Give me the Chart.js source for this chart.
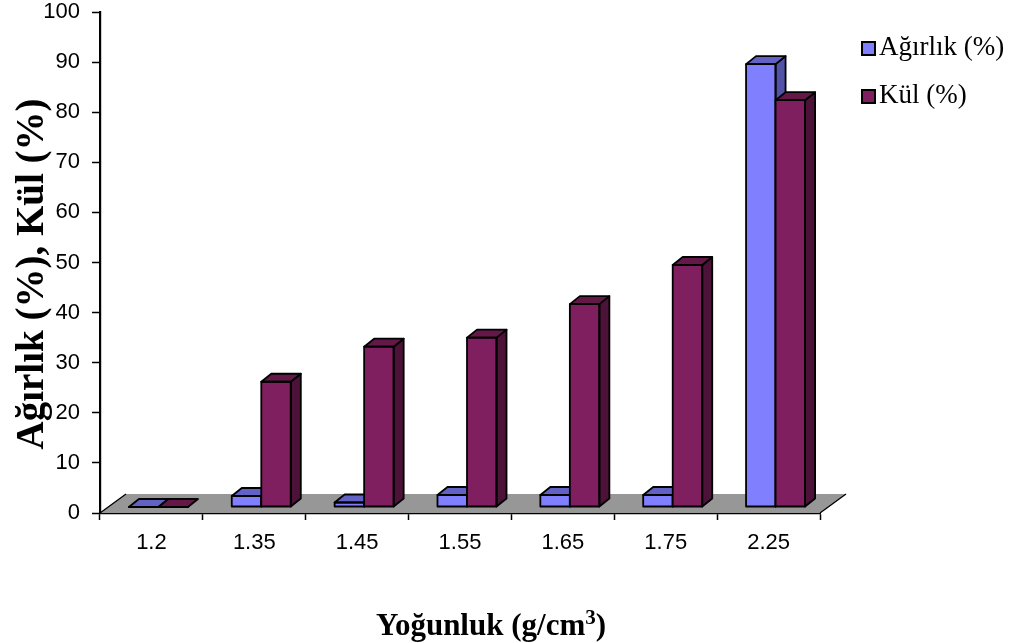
<!DOCTYPE html>
<html>
<head>
<meta charset="utf-8">
<title>Yoğunluk - Ağırlık ve Kül</title>
<script src="https://cdn.jsdelivr.net/npm/chart.js@4/dist/chart.umd.min.js"></script>
<style>
  html, body { margin: 0; padding: 0; background: #ffffff; }
  #wrap { width: 1014px; height: 643px; }
</style>
</head>
<body>
<div id="wrap"><canvas id="chart" width="1014" height="643"></canvas></div>
<script>
// Density classes (g/cm3)
const categories = ['1.2', '1.35', '1.45', '1.55', '1.65', '1.75', '2.25'];
// Weight share of each density fraction (%)
const agirlik = [0, 2.2, 0.9, 2.4, 2.4, 2.4, 88.4];
// Ash content of each density fraction (%)
const kul = [0, 25.0, 32.0, 33.8, 40.5, 48.3, 81.2];
// Series names and axis titles (the x title carries a raised exponent)
const seriesNames = ['Ağırlık (%)', 'Kül (%)'];
const xTitleParts = ['Yoğunluk (g/cm', '3', ')'];
const yTitle = 'Ağırlık (%), Kül (%)';
const yMin = 0, yMax = 100, yStep = 10;

// Pseudo-3D geometry (pixels)
const BAR_SHIFT = { x: 7, y: -6 };   // columns stand a little back on the floor
const FACE = { x: 10, y: -8 };       // column depth (top and side faces)
const FLOOR = { x: 26, y: -19 };     // floor depth

const SANS = '"Liberation Sans", Arial, sans-serif';
const SERIF = '"Liberation Serif", "Times New Roman", serif';
const EDGE = 1.8;

function poly(ctx, pts, fill, stroke, lw) {
  ctx.beginPath();
  ctx.moveTo(pts[0][0], pts[0][1]);
  for (let i = 1; i < pts.length; i++) ctx.lineTo(pts[i][0], pts[i][1]);
  ctx.closePath();
  if (fill) { ctx.fillStyle = fill; ctx.fill(); }
  if (stroke) { ctx.strokeStyle = stroke; ctx.lineWidth = lw; ctx.lineJoin = 'round'; ctx.stroke(); }
}

const depthPlugin = {
  id: 'depth3d',
  beforeDatasetsDraw(chart) {
    const ctx = chart.ctx;
    const a = chart.chartArea;
    // grey floor
    ctx.save();
    poly(ctx, [[a.left, a.bottom], [a.right, a.bottom],
               [a.right + FLOOR.x, a.bottom + FLOOR.y], [a.left + FLOOR.x, a.bottom + FLOOR.y]],
         '#979797', null, 0);
    ctx.strokeStyle = '#000';
    ctx.lineWidth = 1.3;
    ctx.beginPath();
    ctx.moveTo(a.left, a.bottom); ctx.lineTo(a.left + FLOOR.x, a.bottom + FLOOR.y);
    ctx.moveTo(a.right, a.bottom); ctx.lineTo(a.right + FLOOR.x, a.bottom + FLOOR.y);
    ctx.stroke();
    ctx.restore();

    // columns: first series first, so the second one sits in front of its side face
    ctx.save();
    ctx.translate(BAR_SHIFT.x, BAR_SHIFT.y);
    chart.data.datasets.forEach((ds, i) => {
      const meta = chart.getDatasetMeta(i);
      if (!meta.visible) return;
      meta.controller.draw();
      meta.data.forEach(el => {
        const p = el.getProps(['x', 'y', 'base', 'width'], true);
        const l = p.x - p.width / 2, r = p.x + p.width / 2;
        const top = Math.min(p.y, p.base), bot = Math.max(p.y, p.base);
        if (bot - top > 0.5) {
          poly(ctx, [[r, top], [r + FACE.x, top + FACE.y], [r + FACE.x, bot + FACE.y], [r, bot]],
               ds.sideColor, '#000', EDGE);
        }
        poly(ctx, [[l, top], [l + FACE.x, top + FACE.y], [r + FACE.x, top + FACE.y], [r, top]],
             ds.topColor, '#000', EDGE);
        ctx.strokeStyle = '#000';
        ctx.lineWidth = EDGE;
        ctx.strokeRect(l, top, p.width, bot - top);
      });
    });
    ctx.restore();
    return false;
  },
  afterDraw(chart) {
    const ctx = chart.ctx;
    ctx.save();
    // legend
    ctx.font = '27px ' + SERIF;
    ctx.textAlign = 'left';
    ctx.textBaseline = 'alphabetic';
    chart.data.datasets.forEach((ds, i) => {
      const y0 = 42 + i * 48;
      ctx.fillStyle = ds.backgroundColor;
      ctx.fillRect(862, y0, 13, 13);
      ctx.strokeStyle = '#000';
      ctx.lineWidth = 2;
      ctx.strokeRect(862, y0, 13, 13);
      ctx.fillStyle = '#000';
      ctx.fillText(ds.label, 879, y0 + 13);
    });
    // x axis title with raised exponent
    ctx.fillStyle = '#000';
    const mainFont = 'bold 31px ' + SERIF, supFont = 'bold 21px ' + SERIF;
    ctx.font = mainFont;
    const w0 = ctx.measureText(xTitleParts[0]).width;
    const w2 = ctx.measureText(xTitleParts[2]).width;
    ctx.font = supFont;
    const w1 = ctx.measureText(xTitleParts[1]).width;
    let x = 491 - (w0 + w1 + w2) / 2;
    const base = 635;
    ctx.font = mainFont; ctx.fillText(xTitleParts[0], x, base); x += w0;
    ctx.font = supFont; ctx.fillText(xTitleParts[1], x, base - 11); x += w1;
    ctx.font = mainFont; ctx.fillText(xTitleParts[2], x, base);
    // y axis title
    ctx.textAlign = 'center';
    ctx.translate(43, 274);
    ctx.rotate(-Math.PI / 2);
    ctx.font = 'bold 39px ' + SERIF;
    ctx.fillText(yTitle, 0, 0);
    ctx.restore();
  }
};

new Chart(document.getElementById('chart'), {
  type: 'bar',
  data: {
    labels: categories,
    datasets: [
      { label: seriesNames[0], data: agirlik, backgroundColor: '#8080FF',
        topColor: '#6262C4', sideColor: '#5252A6',
        borderWidth: 0, clip: false },
      { label: seriesNames[1], data: kul, backgroundColor: '#7F1F5F',
        topColor: '#631848', sideColor: '#4C1238',
        borderWidth: 0, clip: false }
    ]
  },
  options: {
    responsive: false,
    animation: false,
    events: [],
    layout: { padding: { top: 12, right: 194, left: 0, bottom: 0 } },
    datasets: { bar: { categoryPercentage: 0.574, barPercentage: 1 } },
    plugins: { legend: { display: false }, tooltip: { enabled: false }, title: { display: false } },
    scales: {
      x: {
        z: 1,
        grid: { display: true, drawOnChartArea: false, drawTicks: true, tickLength: 7,
                tickColor: '#000', tickWidth: 1.5, offset: true },
        border: { display: true, color: '#000', width: 2.2 },
        ticks: { color: '#000', font: { family: SANS, size: 22 }, padding: 10,
                 maxRotation: 0, autoSkip: false },
        afterFit(scale) { scale.height = 130; scale.paddingLeft = 0; scale.paddingRight = 0; }
      },
      y: {
        z: 1,
        min: yMin, max: yMax,
        grid: { display: true, drawOnChartArea: false, drawTicks: true, tickLength: 8,
                tickColor: '#000', tickWidth: 1.5 },
        border: { display: true, color: '#000', width: 2.2 },
        ticks: { stepSize: yStep, color: '#000', font: { family: SANS, size: 22 }, padding: 12 },
        afterFit(scale) { scale.width = 100; scale.paddingTop = 0; scale.paddingBottom = 0; }
      }
    }
  },
  plugins: [depthPlugin]
});
</script>
</body>
</html>
